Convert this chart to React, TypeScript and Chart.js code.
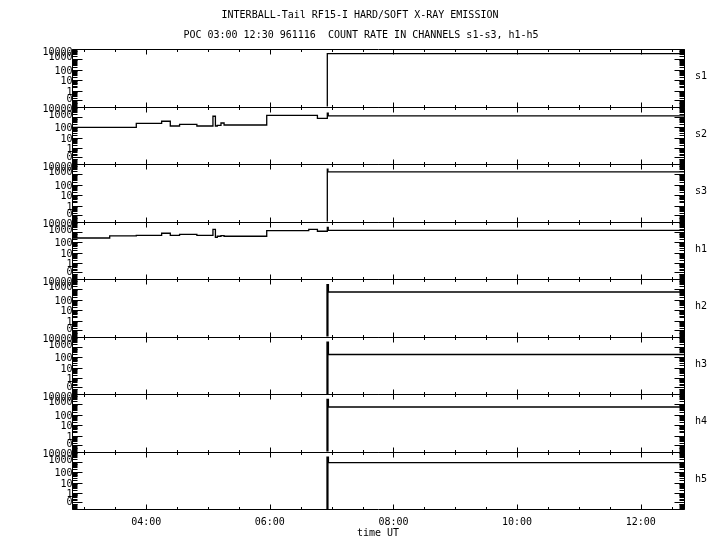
import React, { useEffect, useRef } from 'react';
import { Chart, registerables } from 'chart.js';

Chart.register(...registerables);

// ---- text ----
const titleLine1 = 'INTERBALL-Tail RF15-I HARD/SOFT X-RAY EMISSION';
const titleLine2 = 'POC 03:00 12:30 961116  COUNT RATE IN CHANNELS s1-s3, h1-h5';
const xAxisTitle = 'time UT';

// ---- axes ----
const xMinHour = 2.8;
const xMaxHour = 12.7;
const xTickHours = [3, 3.5, 4, 4.5, 5, 5.5, 6, 6.5, 7, 7.5, 8, 8.5, 9, 9.5, 10, 10.5, 11, 11.5, 12, 12.5];
const xLabelHours = [4, 6, 8, 10, 12];
const xLabels = ['04:00', '06:00', '08:00', '10:00', '12:00'];

const yDecadeMax = 4; // 10000 at panel top
const yDecadeMin = -1.53;
const yZeroDecade = -1.9; // zero counts fall just below the panel floor (clipped)
const yTickLabels = ['10000', '1000', '100', '10', '1', '0'];
const yTickDecades = [4, 3, 2, 1, 0, -0.86];
const yLabelDecades = [3.68, 3.16, 1.86, 0.86, -0.16, -0.86];

// ---- channels & data (segment start time in hours UT, count rate) ----
const channels = ['s1', 's2', 's3', 'h1', 'h2', 'h3', 'h4', 'h5'];

const s1Times = [2.8, 6.93, 12.7];
const s1Counts = [0, 3600, 3600];

const s2Times = [2.8, 3.84, 4.25, 4.39, 4.54, 4.82, 5.08, 5.12, 5.15, 5.21, 5.26, 5.95, 6.77, 6.93, 6.945, 12.7];
const s2Counts = [100, 240, 380, 133, 195, 133, 1150, 133, 155, 260, 166, 1420, 735, 2250, 1240, 1240];

const s3Times = [2.8, 6.93, 6.94, 12.7];
const s3Counts = [0, 3200, 1780, 1780];

const h1Times = [2.8, 3.41, 3.84, 4.25, 4.39, 4.54, 4.82, 5.08, 5.12, 5.15, 5.21, 5.26, 5.95, 6.63, 6.77, 6.93, 6.945, 12.7];
const h1Counts = [260, 410, 470, 740, 470, 590, 470, 1780, 300, 380, 430, 380, 1350, 1780, 1150, 2760, 1410, 1410];

const hTimes = [2.8, 6.925, 6.935, 6.94, 6.948, 12.7];
const h2Counts = [0, 2800, 0, 2800, 560, 560];
const h3Counts = [0, 2800, 0, 2800, 186, 186];
const h4Counts = [0, 3100, 0, 3100, 560, 560];
const h5Counts = [0, 2800, 0, 2800, 870, 870];

const seriesTimes = [s1Times, s2Times, s3Times, h1Times, hTimes, hTimes, hTimes, hTimes];
const seriesCounts = [s1Counts, s2Counts, s3Counts, h1Counts, h2Counts, h3Counts, h4Counts, h5Counts];

const toDecade = (v: number) => (v > 0 ? Math.log10(v) : yZeroDecade);

const FONT = '10px "DejaVu Sans Mono", monospace';

const framePlugin = {
  id: 'panelFrame',
  afterDraw(chart: any) {
    const ctx = chart.ctx as CanvasRenderingContext2D;
    const xs = chart.scales.x;
    const left = xs.left;
    const right = xs.right;
    const snap = (v: number) => Math.round(v) + 0.5;
    ctx.save();
    ctx.strokeStyle = '#000';
    ctx.fillStyle = '#000';
    ctx.lineWidth = 1;
    ctx.font = FONT;

    channels.forEach((ch, i) => {
      const ys = chart.scales['y' + i];
      const top = ys.top;
      const bottom = ys.bottom;
      const lx = snap(left);
      const rx = snap(right);
      ctx.beginPath();
      ctx.moveTo(lx, snap(top));
      ctx.lineTo(rx, snap(top));
      ctx.moveTo(lx, snap(bottom));
      ctx.lineTo(rx, snap(bottom));
      ctx.moveTo(lx, snap(top));
      ctx.lineTo(lx, snap(bottom));
      ctx.moveTo(rx, snap(top));
      ctx.lineTo(rx, snap(bottom));
      // x ticks, inward at top and bottom of each panel
      xTickHours.forEach((h) => {
        const px = snap(xs.getPixelForValue(h));
        const len = xLabelHours.includes(h) ? 5 : 2.5;
        ctx.moveTo(px, snap(top));
        ctx.lineTo(px, snap(top) + len);
        ctx.moveTo(px, snap(bottom));
        ctx.lineTo(px, snap(bottom) - len);
      });
      // y ticks: major
      yTickDecades.forEach((d) => {
        const py = snap(ys.getPixelForValue(d));
        ctx.moveTo(lx, py);
        ctx.lineTo(lx + 10, py);
        ctx.moveTo(rx, py);
        ctx.lineTo(rx - 10, py);
      });
      // y ticks: minor (2..9 within each decade)
      for (let d = -2; d < 4; d++) {
        for (let k = 2; k <= 9; k++) {
          const v = d + Math.log10(k);
          if (v <= yDecadeMin || v >= yDecadeMax) continue;
          const py = snap(ys.getPixelForValue(v));
          ctx.moveTo(lx, py);
          ctx.lineTo(lx + 5, py);
          ctx.moveTo(rx, py);
          ctx.lineTo(rx - 5, py);
        }
      }
      ctx.stroke();

      // y labels
      ctx.textAlign = 'right';
      ctx.textBaseline = 'middle';
      yTickLabels.forEach((lab, j) => {
        ctx.fillText(lab, left + 0.5, ys.getPixelForValue(yLabelDecades[j]));
      });
      // channel name
      ctx.textAlign = 'left';
      ctx.fillText(ch, right + 11, (top + bottom) / 2 - 1);
    });

    // x labels
    ctx.textAlign = 'center';
    ctx.textBaseline = 'middle';
    const bottomY = chart.chartArea.bottom;
    xLabelHours.forEach((h, j) => {
      ctx.fillText(xLabels[j], xs.getPixelForValue(h), bottomY + 13);
    });
    ctx.fillText(xAxisTitle, (left + right) / 2, bottomY + 24);

    // titles
    ctx.fillText(titleLine1, 360, 15);
    ctx.fillText(titleLine2, 361, 35);
    ctx.restore();
  },
};

export default function App() {
  const canvasRef = useRef<HTMLCanvasElement | null>(null);

  useEffect(() => {
    document.body.style.margin = '0';
    document.body.style.background = '#fff';
    const canvas = canvasRef.current;
    if (!canvas) return;

    const scales: any = {
      x: { type: 'linear', min: xMinHour, max: xMaxHour, display: false },
    };
    channels.forEach((ch, i) => {
      scales['y' + i] = {
        type: 'linear',
        min: yDecadeMin,
        max: yDecadeMax,
        display: false,
        position: 'left',
        stack: 'panels',
        stackWeight: 1,
        weight: channels.length - i,
        offset: false,
      };
    });

    const datasets = channels.map((ch, i) => ({
      label: ch,
      data: seriesTimes[i].map((t, j) => ({ x: t, y: toDecade(seriesCounts[i][j]) })),
      xAxisID: 'x',
      yAxisID: 'y' + i,
      stepped: 'before' as const,
      borderColor: '#000',
      borderWidth: 1.3,
      pointRadius: 0,
      fill: false,
      clip: 0,
    }));

    const chart = new Chart(canvas, {
      type: 'line',
      data: { datasets },
      options: {
        animation: false,
        responsive: false,
        maintainAspectRatio: false,
        devicePixelRatio: 1,
        layout: { padding: { left: 72, right: 36, top: 49, bottom: 41 } },
        plugins: { legend: { display: false }, tooltip: { enabled: false }, title: { display: false } },
        scales,
      },
      plugins: [framePlugin],
    });
    return () => chart.destroy();
  }, []);

  return (
    <div style={{ width: 720, height: 550, background: '#fff' }}>
      <canvas ref={canvasRef} width={720} height={550} style={{ display: 'block' }} />
    </div>
  );
}
